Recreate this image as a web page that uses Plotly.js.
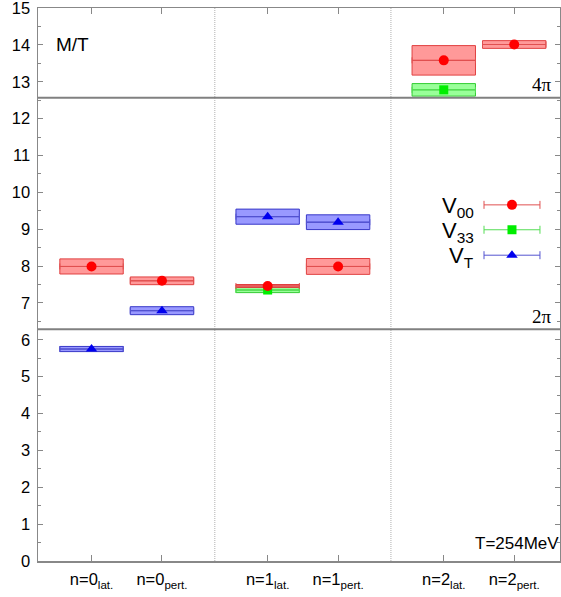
<!DOCTYPE html>
<html>
<head>
<meta charset="utf-8">
<script src="https://cdn.plot.ly/plotly-3.0.1.min.js"></script>
<style>html,body{margin:0;padding:0;background:#fff;}#chart{width:561px;height:597px;}</style>
</head>
<body>
<div id="chart"></div>
<script>
// Category positions and tick labels
const catPos = [1, 2, 3.5, 4.5, 6, 7];
const catLabels = ["n=0<sub>lat.</sub>", "n=0<sub>pert.</sub>", "n=1<sub>lat.</sub>", "n=1<sub>pert.</sub>", "n=2<sub>lat.</sub>", "n=2<sub>pert.</sub>"];
const yTicks = [0, 1, 2, 3, 4, 5, 6, 7, 8, 9, 10, 11, 12, 13, 14, 15];
const dividers = [2.75, 5.25];
const piLines = [2 * Math.PI, 4 * Math.PI];

// V00 (red)
const v00X = [1, 2, 3.5, 4.5, 6, 7];
const v00Val = [7.99, 7.60, 7.46, 7.99, 13.58, 14.01];
const v00Err = [0.205, 0.105, 0.04, 0.215, 0.40, 0.105];
// V33 (green)
const v33X = [3.5, 6];
const v33Val = [7.35, 12.78];
const v33Err = [0.07, 0.17];
// VT (blue)
const vtX = [1, 2, 3.5, 4.5];
const vtVal = [5.75, 6.79, 9.34, 9.19];
const vtErr = [0.07, 0.108, 0.205, 0.2];

const halfW = 0.45;

const series = [
  {name: "V33", x: v33X, y: v33Val, e: v33Err, fill: "rgba(0,255,0,0.4)", line: "#33cc33", bar: "#55dd55", symbol: "square", size: 9, mcol: "#00ee00"},
  {name: "VT", x: vtX, y: vtVal, e: vtErr, fill: "rgba(0,0,255,0.4)", line: "#3838c8", bar: "#5555d0", symbol: "triangle-up", size: 10, mcol: "#0000ee"},
  {name: "V00", x: v00X, y: v00Val, e: v00Err, fill: "rgba(255,0,0,0.4)", line: "#e04040", bar: "#e05050", symbol: "circle", size: 10, mcol: "#ff0000"}
];

const shapes = [];
dividers.forEach(d => shapes.push({type: "line", xref: "x", yref: "paper", x0: d, x1: d, y0: 0, y1: 1,
  line: {color: "#b0b0b0", width: 1, dash: "1px,1px"}, layer: "below"}));
piLines.forEach(p => shapes.push({type: "line", xref: "paper", yref: "y", x0: 0, x1: 1, y0: p, y1: p,
  line: {color: "#808080", width: 2}, layer: "above"}));
series.forEach(s => {
  s.x.forEach((xv, i) => {
    shapes.push({type: "rect", xref: "x", yref: "y", x0: xv - halfW, x1: xv + halfW,
      y0: s.y[i] - s.e[i], y1: s.y[i] + s.e[i], fillcolor: s.fill, line: {color: s.line, width: 1}, layer: "below"});
    shapes.push({type: "line", xref: "x", yref: "y", x0: xv - halfW, x1: xv + halfW,
      y0: s.y[i], y1: s.y[i], line: {color: s.line, width: 1}, layer: "below"});
  });
});

const traces = series.map(s => ({
  type: "scatter", mode: "markers", x: s.x, y: s.y, showlegend: false, cliponaxis: false,
  marker: {symbol: s.symbol, size: s.size, color: s.mcol, line: {width: 0}},
  error_x: {type: "data", array: s.x.map(() => halfW), symmetric: true, color: s.bar, thickness: 1, width: 3}
}));

// legend samples (on overlay axes 0..1)
const legOrder = [series[2], series[0], series[1]];
const legY = [0.644, 0.599, 0.553];
const legText = ["V<sub>00</sub>", "V<sub>33</sub>", "V<sub>T</sub>"];
legOrder.forEach((s, i) => {
  traces.push({type: "scatter", mode: "markers", x: [0.908], y: [legY[i]], xaxis: "x2", yaxis: "y2",
    showlegend: false, cliponaxis: false, hoverinfo: "skip",
    marker: {symbol: s.symbol, size: s.size, color: s.mcol},
    error_x: {type: "data", array: [0.0536], symmetric: true, color: s.bar, thickness: 1, width: 4}});
});

const annotations = [
  {text: "M/T", xref: "paper", yref: "paper", x: 0.067, y: 0.934, showarrow: false, xanchor: "center", yanchor: "middle",
    font: {family: "Liberation Sans, Arial, sans-serif", size: 19, color: "#000"}},
  {text: "T=254MeV", xref: "paper", yref: "paper", x: 0.918, y: 0.031, showarrow: false, xanchor: "center", yanchor: "middle",
    font: {family: "Liberation Sans, Arial, sans-serif", size: 17, color: "#000"}},
  {text: "4\u03c0", xref: "paper", yref: "paper", x: 0.9655, y: 0.8615, showarrow: false, xanchor: "center", yanchor: "middle",
    font: {family: "Liberation Serif, Times New Roman, serif", size: 19, color: "#000"}},
  {text: "2\u03c0", xref: "paper", yref: "paper", x: 0.9655, y: 0.443, showarrow: false, xanchor: "center", yanchor: "middle",
    font: {family: "Liberation Serif, Times New Roman, serif", size: 19, color: "#000"}}
];
legText.forEach((t, i) => annotations.push({text: t, xref: "paper", yref: "paper", x: 0.839, y: legY[i] - 0.004,
  showarrow: false, xanchor: "right", yanchor: "middle",
  font: {family: "Liberation Sans, Arial, sans-serif", size: 22, color: "#000"}}));

const axFont = {family: "Liberation Sans, Arial, sans-serif", size: 16.5, color: "#000"};
const layout = {
  width: 561, height: 597,
  margin: {l: 38, r: 1, t: 8, b: 36},
  paper_bgcolor: "#fff", plot_bgcolor: "#fff",
  showlegend: false,
  xaxis: {range: [0.24, 7.65], tickvals: catPos, ticktext: catLabels, ticks: "inside", ticklen: 6, tickcolor: "#888",
    showline: true, linecolor: "#888", linewidth: 1.5, mirror: "ticks", showgrid: false, zeroline: false,
    tickfont: axFont, ticklabelstandoff: 3},
  yaxis: {range: [0, 15], tickmode: "array", tickvals: yTicks, ticktext: yTicks.map(String), ticks: "inside", ticklen: 5, tickcolor: "#888",
    minor: {dtick: 0.5, tick0: 0, ticks: "inside", ticklen: 3, tickcolor: "#888"},
    showline: true, linecolor: "#888", linewidth: 1.5, mirror: "ticks", showgrid: false, zeroline: false,
    tickfont: axFont, ticklabelstandoff: 3, ticklabeloverflow: "allow"},
  xaxis2: {overlaying: "x", range: [0, 1], visible: false, fixedrange: true},
  yaxis2: {overlaying: "y", range: [0, 1], visible: false, fixedrange: true},
  shapes: shapes,
  annotations: annotations
};

Plotly.newPlot("chart", traces, layout, {staticPlot: true, displayModeBar: false});
</script>
</body>
</html>
